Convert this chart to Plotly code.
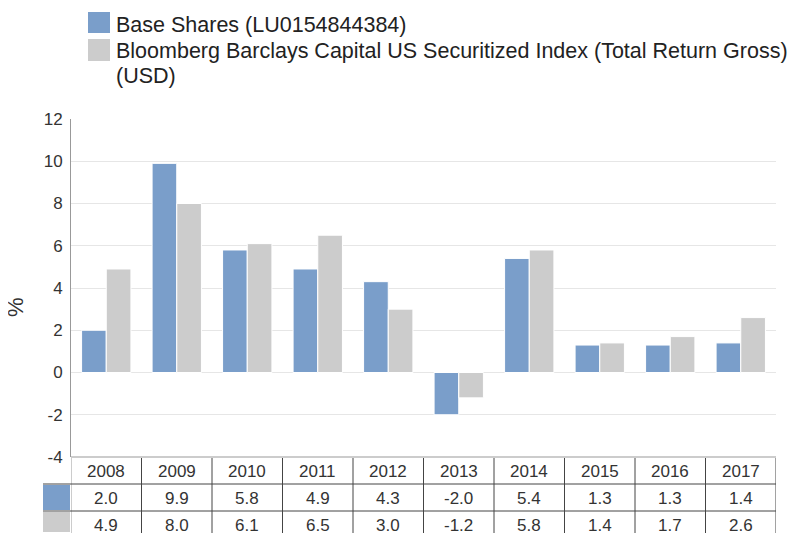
import plotly.graph_objects as go

# The page has an 8px body margin; the figure is sized/offset to land on the 798x533 view.
OFF = 8
W, H = 798 - OFF, 533 - OFF

years = ["2008", "2009", "2010", "2011", "2012", "2013", "2014", "2015", "2016", "2017"]
fund_name = "Base Shares (LU0154844384)"
index_name = "Bloomberg Barclays Capital US Securitized Index (Total Return Gross) (USD)"
fund_values = [2.0, 9.9, 5.8, 4.9, 4.3, -2.0, 5.4, 1.3, 1.3, 1.4]
index_values = [4.9, 8.0, 6.1, 6.5, 3.0, -1.2, 5.8, 1.4, 1.7, 2.6]
y_ticks = [-4, -2, 0, 2, 4, 6, 8, 10, 12]

series = [
    (fund_name, fund_values, "#7a9eca"),
    (index_name, index_values, "#cccccc"),
]

def px(x):
    return (x - OFF) / W

def py(y):
    return 1 - (y - OFF) / H

PLOT_L, PLOT_R, PLOT_T, PLOT_B = 71, 776, 119, 457
TABLE_L = 43
ROW_LINES = [457, 484, 511, 533]
TEXT_FONT = "Liberation Sans, Arial, sans-serif"

fig = go.Figure()
for name, vals, color in series:
    fig.add_trace(go.Bar(
        x=years, y=vals, name=name,
        marker=dict(color=color, line=dict(color="white", width=1)),
        showlegend=False, hoverinfo="x+y+name",
    ))

shapes = []
annotations = []

# Legend (custom drawn, long label wrapped onto two lines)
first, last = index_name.rsplit(" ", 1)
legend_rows = [(12, 33, [fund_name], [25]),
               (39, 61, [first, last], [51, 76.5])]
for (name, vals, color), (t, b, lines, centers) in zip(series, legend_rows):
    shapes.append(dict(type="rect", xref="paper", yref="paper",
                       x0=px(88), x1=px(110), y0=py(b), y1=py(t),
                       fillcolor=color, line=dict(width=0)))
    for line, c in zip(lines, centers):
        annotations.append(dict(xref="paper", yref="paper", x=px(113.5), y=py(c),
                                xanchor="left", yanchor="middle", showarrow=False,
                                text=line, font=dict(size=21.5, color="#222", family=TEXT_FONT)))

# y-axis title
annotations.append(dict(xref="paper", yref="paper", x=px(15.5), y=py(307.5),
                        xanchor="center", yanchor="middle", showarrow=False,
                        text="%", textangle=-90,
                        font=dict(size=22, color="#333", family=TEXT_FONT)))

# Table below chart
line_col = "#444444"
for i in range(len(years) + 1):
    shapes.append(dict(type="line", xref="x", yref="paper",
                       x0=i - 0.5, x1=i - 0.5, y0=py(ROW_LINES[0]), y1=py(533),
                       line=dict(color=line_col if i > 0 else "#999999", width=1)))
for yl in ROW_LINES[1:3]:
    shapes.append(dict(type="line", xref="paper", yref="paper",
                       x0=px(TABLE_L), x1=px(PLOT_R), y0=py(yl), y1=py(yl),
                       line=dict(color=line_col, width=1)))
# top table border (axis line)
shapes.append(dict(type="line", xref="paper", yref="paper",
                   x0=px(PLOT_L), x1=px(PLOT_R), y0=py(457), y1=py(457),
                   line=dict(color="#cccccc", width=2)))

for r, (name, vals, color) in enumerate(series):
    top, bot = ROW_LINES[r + 1], ROW_LINES[r + 2]
    shapes.append(dict(type="rect", xref="paper", yref="paper",
                       x0=px(TABLE_L), x1=px(PLOT_L - 1), y0=py(bot - 1), y1=py(top + 1),
                       fillcolor=color, line=dict(width=0)))

header_c = 471
row_c = [498.5, 525.5]
for j, yr in enumerate(years):
    annotations.append(dict(xref="x", yref="paper", x=j, y=py(header_c),
                            xanchor="center", yanchor="middle", showarrow=False,
                            text=yr, font=dict(size=17, color="#333", family=TEXT_FONT)))
    for r, (name, vals, color) in enumerate(series):
        annotations.append(dict(xref="x", yref="paper", x=j, y=py(row_c[r]),
                                xanchor="center", yanchor="middle", showarrow=False,
                                text=f"{vals[j]:.1f}",
                                font=dict(size=17, color="#333", family=TEXT_FONT)))

fig.update_layout(
    width=W, height=H,
    margin=dict(l=0, r=0, t=0, b=0, pad=0),
    paper_bgcolor="white", plot_bgcolor="white",
    barmode="group", bargap=0.3, bargroupgap=0,
    font=dict(family=TEXT_FONT, color="#333"),
    xaxis=dict(domain=[px(PLOT_L), px(PLOT_R)], type="category",
               categoryorder="array", categoryarray=years,
               range=[-0.5, len(years) - 0.5], autorange=False,
               showticklabels=False, showgrid=False, showline=False,
               zeroline=False, ticks="", fixedrange=True),
    yaxis=dict(domain=[py(PLOT_B), py(PLOT_T)], range=[-4, 12], autorange=False,
               tickvals=y_ticks, ticktext=[str(v) for v in y_ticks],
               showgrid=True, gridcolor="#e6e6e6", gridwidth=1,
               zeroline=False, showline=True, linecolor="#999999", linewidth=1,
               ticks="", tickfont=dict(size=17, color="#333", family=TEXT_FONT),
               ticklabelstandoff=4, fixedrange=True, automargin=False),
    shapes=shapes,
    annotations=annotations,
    showlegend=False,
)

fig.write_html("out.html", config={"displayModeBar": False})
